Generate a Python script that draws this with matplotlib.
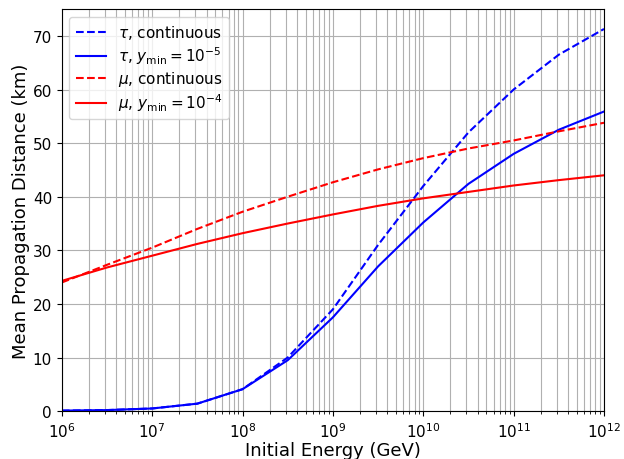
import numpy as np
from matplotlib import pyplot as plt

energy = [1e6, 3.16e6, 1e7, 3.16e7, 1e8, 3.16e8, 1e9, 3.16e9, 1e10, 3.16e10, 1e11, 3.16e11, 1e12]
tau_cont = [0.1, 0.2, 0.5, 1.4, 4.1, 10.0, 19.0, 31.0, 42.0, 52.0, 60.0, 66.5, 71.3]
tau_ymin = [0.1, 0.2, 0.5, 1.4, 4.1, 9.5, 17.5, 27.0, 35.2, 42.4, 48.0, 52.5, 55.9]
mu_cont = [24.0, 27.3, 30.5, 34.0, 37.2, 40.0, 42.7, 45.1, 47.2, 49.0, 50.5, 52.2, 53.8]
mu_ymin = [24.3, 26.8, 29.0, 31.2, 33.2, 35.0, 36.7, 38.3, 39.7, 40.9, 42.1, 43.1, 44.0]

fig, ax = plt.subplots(figsize=(6.24, 4.6), dpi=100)
ax.plot(energy, tau_cont, '--b', label=r'$\tau$, continuous')
ax.plot(energy, tau_ymin, '-b', label=r'$\tau$, $y_{\min}=10^{-5}$')
ax.plot(energy, mu_cont, '--r', label=r'$\mu$, continuous')
ax.plot(energy, mu_ymin, '-r', label=r'$\mu$, $y_{\min}=10^{-4}$')

ax.set_xscale('log')
ax.set_xlim(1e6, 1e12)
ax.set_ylim(0, 75)
ax.grid(which='both')
ax.set_xlabel('Initial Energy (GeV)', fontsize=13, labelpad=1)
ax.set_ylabel('Mean Propagation Distance (km)', fontsize=13, labelpad=2)
ax.tick_params(labelsize=11)
ax.legend(fontsize=11, loc='upper left', labelspacing=0.22)

fig.subplots_adjust(left=0.099, right=0.968, bottom=0.104, top=0.978)
fig.savefig('out.png')
